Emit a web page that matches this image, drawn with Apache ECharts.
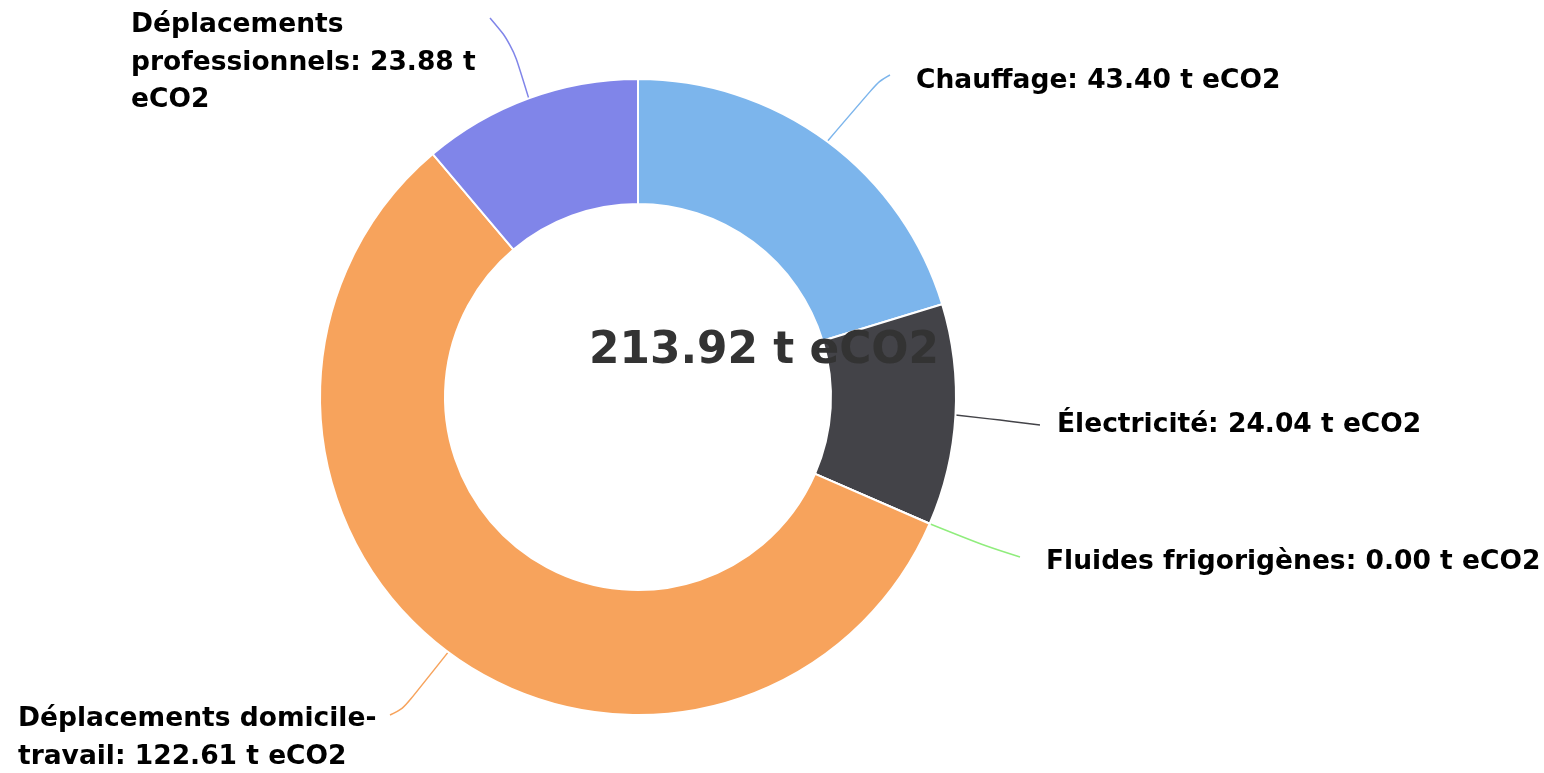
<!DOCTYPE html>
<html>
<head>
<meta charset="utf-8">
<script src="https://cdn.jsdelivr.net/npm/echarts@6/dist/echarts.min.js"></script>
<style>
html,body{margin:0;padding:0;background:#fff;}
#chart{width:1544px;height:773px;}
</style>
</head>
<body>
<div id="chart"></div>
<script>
// ---- data ----
const categories = ['Chauffage', 'Électricité', 'Fluides frigorigènes', 'Déplacements domicile-travail', 'Déplacements professionnels'];
const values = [43.40, 24.04, 0.00, 122.61, 23.88];
const totalValue = 213.92;
const unit = 't eCO2';

// ---- styles / layout ----
const colors = ['#7cb5ec', '#434348', '#90ed7d', '#f7a35c', '#8085e9'];
const labelFontSize = 26.5;
const labelFont = 'bold ' + labelFontSize + 'px "DejaVu Sans"';
const labelPlacement = [
  { x: 916, y: 81, bend: [879, 81], end: [890, 75] },
  { x: 1057, y: 425, bend: [1000, 420], end: [1040, 425] },
  { x: 1046, y: 562, bend: [985, 546], end: [1020, 557] },
  { x: 18, y: 738, bend: [403, 709], end: [390, 715] },
  { x: 131, y: 63, bend: [512, 44], end: [490, 18] }
];
const labelWidths = [700, 700, 700, 372, 362];

// wrap text at spaces and hyphens, like the original chart
const measureCtx = document.createElement('canvas').getContext('2d');
function wrapText(text, font, maxWidth) {
  measureCtx.font = font;
  const tokens = text.match(/[^\s-]+[\s-]*|[\s-]+/g) || [text];
  const lines = [];
  let cur = '';
  tokens.forEach(tok => {
    const trial = cur + tok;
    if (cur && measureCtx.measureText(trial.trimEnd()).width > maxWidth) {
      lines.push(cur.trimEnd());
      cur = tok;
    } else {
      cur = trial;
    }
  });
  if (cur) lines.push(cur.trimEnd());
  return lines.join('\n');
}

const chart = echarts.init(document.getElementById('chart'), null, { renderer: 'canvas' });

const seriesData = categories.map((name, i) => ({
  name: name,
  value: values[i],
  itemStyle: { color: colors[i] }
}));

chart.setOption({
  animation: false,
  backgroundColor: '#ffffff',
  graphic: [{
    type: 'text',
    z: 100,
    style: {
      x: 589,
      y: 352,
      text: totalValue.toFixed(2) + ' ' + unit,
      fill: '#333333',
      font: 'bold 43.8px "DejaVu Sans"',
      textAlign: 'left',
      textVerticalAlign: 'middle'
    }
  }],
  series: [{
    type: 'pie',
    center: [638, 397],
    radius: [193, 318],
    startAngle: 90,
    clockwise: true,
    avoidLabelOverlap: false,
    z: 2,
    itemStyle: { borderColor: '#ffffff', borderWidth: 2 },
    emphasis: { disabled: true },
    label: {
      show: true,
      position: 'outside',
      formatter: p => wrapText(p.name + ': ' + p.value.toFixed(2) + ' ' + unit, labelFont, labelWidths[p.dataIndex]),
      fontFamily: 'DejaVu Sans',
      fontWeight: 'bold',
      fontSize: labelFontSize,
      lineHeight: 37.5,
      color: '#000000'
    },
    labelLine: {
      show: true,
      smooth: 0.35,
      length: 30,
      length2: 20,
      lineStyle: { width: 1.5 }
    },
    labelLayout: function (params) {
      const cfg = labelPlacement[params.dataIndex];
      const start = params.labelLinePoints ? params.labelLinePoints[0] : cfg.bend;
      return {
        x: cfg.x,
        y: cfg.y,
        align: 'left',
        verticalAlign: 'middle',
        labelLinePoints: [start, cfg.bend, cfg.end]
      };
    },
    data: seriesData
  }]
});
</script>
</body>
</html>
